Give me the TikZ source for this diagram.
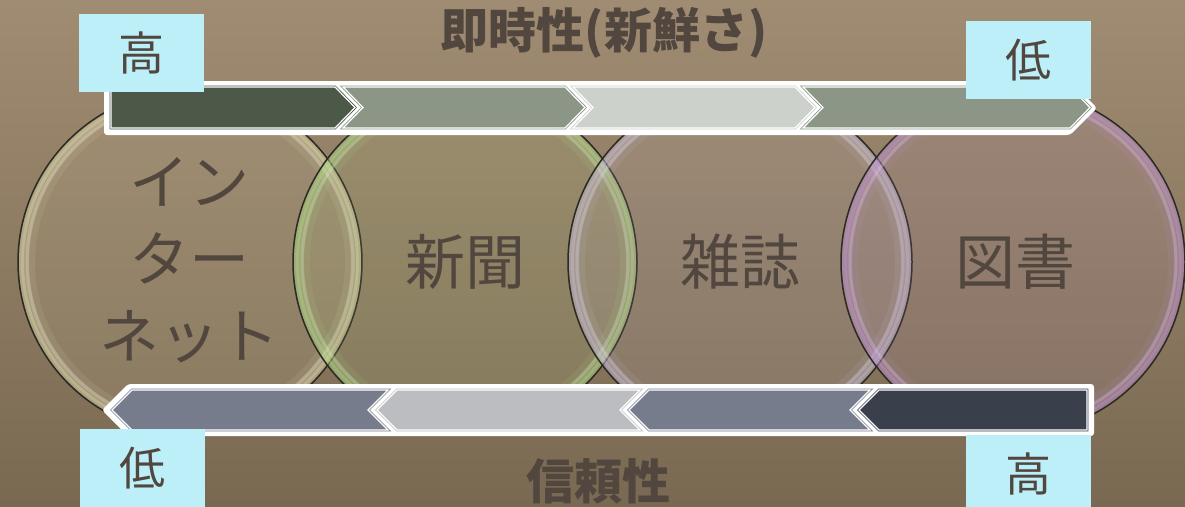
\documentclass[tikz,border=0pt]{standalone}
\usepackage{fontspec}
\newfontfamily\jp{Noto Sans CJK JP}
\usepackage{tikz}
\usetikzlibrary{shapes, arrows}

\definecolor{bgtop}{HTML}{A08C72}
\definecolor{bgbot}{HTML}{7A6952}
\definecolor{txt}{HTML}{51473F}
\definecolor{lvl}{HTML}{BDEFF9}
\definecolor{rim}{HTML}{2B2B25}
\definecolor{topA}{HTML}{4C5848}
\definecolor{topB}{HTML}{8B9686}
\definecolor{topC}{HTML}{CDD1CB}
\definecolor{botA}{HTML}{767C8B}
\definecolor{botB}{HTML}{BCBDC1}
\definecolor{botD}{HTML}{393F4B}
\definecolor{ringA}{HTML}{E6E4B8}
\definecolor{ringB}{HTML}{B4E48C}
\definecolor{ringC}{HTML}{CFC6E6}
\definecolor{ringD}{HTML}{C494DC}

\begin{document}
\begin{tikzpicture}[x=1pt, y=-1pt]

\tikzstyle{bubbletext} = [text=txt, font=\jp\fontsize{60}{77}\selectfont, align=center]
\tikzstyle{levelbox} = [rectangle, fill=lvl, text=txt, font=\jp\fontsize{46}{46}\selectfont, minimum width=125pt, minimum height=78pt, inner sep=0pt]
\tikzstyle{axistitle} = [text=txt, font=\jp\bfseries\fontsize{48}{48}\selectfont]
\tikzstyle{barframe} = [fill=white, rounded corners=3pt]
\tikzstyle{chevron} = [line width=0.8pt, double=white, double distance=1.2pt]

% background
\shade[top color=bgtop, bottom color=bgbot] (0,0) rectangle (1185,506);
\useasboundingbox (0,0) rectangle (1185,506);

% bubbles
\foreach \cx/\ring in {190/ringA, 465/ringB, 740/ringC, 1013/ringD} {
  \fill[\ring, opacity=0.10] (\cx,262) circle (172);
  \draw[\ring, opacity=0.10, line width=10pt] (\cx,262) circle (160);
  \draw[\ring, opacity=0.25, line width=8pt] (\cx,262) circle (165);
  \draw[\ring, opacity=0.35, line width=5pt] (\cx,262) circle (168.5);
  \draw[white, opacity=0.15, line width=3pt] (\cx,262) circle (163);
  \draw[rim, line width=1.5pt] (\cx,262) circle (172);
}

\node[bubbletext] (net) at (189,260) {イン\\ター\\ネット};
\node[bubbletext] (paper) at (465,262) {新聞};
\node[bubbletext] (mag) at (740,262) {雑誌};
\node[bubbletext] (book) at (1015,262) {図書};

% top bar
\fill[barframe] (104,81) -- (1070,81) -- (1097,108) -- (1070,135) -- (104,135) -- cycle;
\draw[chevron, draw=topA, fill=topA] (111,87) -- (335,87) -- (355,107.5) -- (335,128) -- (111,128) -- cycle;
\foreach \xa/\xb/\col in {343/585/topB, 573/815/topC, 803/1090/topB}
  \draw[chevron, draw=\col, fill=\col] (\xa,87) -- (\xb-20,87) -- (\xb,107.5) -- (\xb-20,128) -- (\xa,128) -- (\xa+20,107.5) -- cycle;

% bottom bar
\fill[barframe] (102,410) -- (128,384) -- (1094,384) -- (1094,436) -- (128,436) -- cycle;
\foreach \xa/\xb/\col in {112/388/botA, 377/640/botB, 629/870/botA}
  \draw[chevron, draw=\col, fill=\col] (\xa,410) -- (\xa+20,390) -- (\xb,390) -- (\xb-20,410) -- (\xb,430) -- (\xa+20,430) -- cycle;
\draw[chevron, draw=botD, fill=botD] (859,410) -- (879,390) -- (1087,390) -- (1087,430) -- (879,430) -- cycle;

% levels
\node[levelbox] (speedhi) at (141.5,53) {高};
\node[levelbox] (speedlo) at (1028.5,60) {低};
\node[levelbox] (trustlo) at (142.5,468) {低};
\node[levelbox] (trusthi) at (1028.5,474) {高};

% titles
\node[axistitle] (speed) at (604,33) {即時性(新鮮さ)};
\node[axistitle] (trust) at (598,481) {信頼性};

\end{tikzpicture}
\end{document}
